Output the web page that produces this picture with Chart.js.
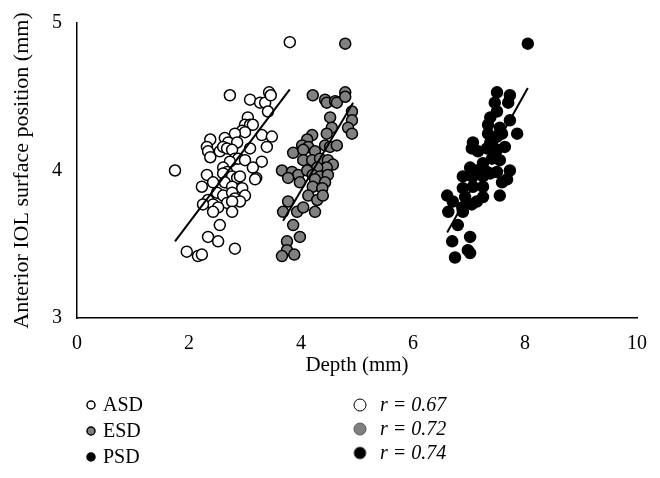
<!DOCTYPE html>
<html>
<head>
<meta charset="utf-8">
<title>Depth vs anterior IOL surface position</title>
<script src="https://cdn.jsdelivr.net/npm/chart.js@4.4.1/dist/chart.umd.min.js"></script>
<style>
  html, body { margin: 0; padding: 0; background: #fff; }
  .chart-wrapper { position: relative; width: 660px; height: 478px; }
</style>
</head>
<body>
<div class="chart-wrapper">
  <canvas id="myChart" width="660" height="478"></canvas>
</div>
<script>
// ASD points
const asdX = [3.80, 2.73, 3.09, 3.27, 3.36, 3.43, 3.46, 3.41, 3.05, 3.00, 3.09, 3.14, 2.95, 3.00, 3.30, 3.48, 2.82,
  2.64, 2.70, 2.86, 2.38, 2.32, 2.34, 2.38, 2.55, 2.61, 2.68, 2.77, 3.09, 3.39, 2.82, 2.88, 3.00, 2.73, 3.30,
  1.75, 2.32, 2.61, 2.68, 3.14, 3.20, 2.61, 2.77, 2.86, 2.91, 3.18, 2.23, 2.43, 2.64, 2.77, 2.95, 3.00,
  2.50, 2.61, 2.77, 2.82, 2.91, 2.34, 2.43, 2.25, 2.68, 2.77, 2.52, 2.43, 2.77, 2.55, 2.34, 2.52, 2.82,
  1.96, 2.16, 2.23];
const asdY = [4.87, 4.51, 4.48, 4.46, 4.46, 4.53, 4.51, 4.40, 4.36, 4.31, 4.31, 4.31, 4.27, 4.26, 4.24, 4.23, 4.25,
  4.22, 4.19, 4.19, 4.21, 4.16, 4.13, 4.09, 4.13, 4.16, 4.15, 4.14, 4.15, 4.16, 4.08, 4.08, 4.07, 4.06, 4.06,
  4.00, 3.97, 4.02, 3.99, 4.02, 3.95, 3.98, 3.96, 3.95, 3.96, 3.94, 3.89, 3.92, 3.92, 3.89, 3.88, 3.83,
  3.85, 3.83, 3.85, 3.81, 3.79, 3.80, 3.77, 3.77, 3.78, 3.79, 3.75, 3.72, 3.72, 3.63, 3.55, 3.52, 3.47,
  3.45, 3.42, 3.43];

// ESD points
const esdX = [4.79, 4.21, 4.43, 4.46, 4.61, 4.64, 4.79, 4.79, 4.91, 4.91, 4.84, 4.91, 4.52, 4.55, 4.46,
  4.20, 4.11, 4.02, 4.13, 3.86, 4.04, 4.25, 4.43, 4.52, 4.64, 4.04, 4.20, 4.34, 4.48, 4.57, 4.46, 4.29,
  3.66, 3.84, 3.95, 4.11, 4.21, 4.34, 4.48, 3.77, 3.98, 4.25, 4.43, 4.21, 4.38, 4.13, 4.29, 4.39,
  3.77, 3.68, 3.93, 4.04, 4.25, 3.86, 3.98, 3.75, 3.75, 3.66, 3.88];
const esdY = [4.86, 4.51, 4.48, 4.46, 4.47, 4.46, 4.53, 4.50, 4.40, 4.34, 4.29, 4.25, 4.36, 4.29, 4.25,
  4.24, 4.21, 4.17, 4.16, 4.12, 4.14, 4.13, 4.17, 4.16, 4.17, 4.07, 4.07, 4.08, 4.07, 4.04, 4.02, 4.02,
  4.00, 3.99, 3.97, 4.00, 3.97, 3.96, 3.97, 3.95, 3.92, 3.94, 3.92, 3.89, 3.88, 3.83, 3.80, 3.83,
  3.79, 3.72, 3.72, 3.75, 3.72, 3.63, 3.55, 3.52, 3.46, 3.42, 3.43];

// PSD points
const psdX = [8.05, 7.50, 7.73, 7.70, 7.46, 7.50, 7.38, 7.34, 7.55, 7.73, 7.86, 7.34, 7.50, 7.59, 7.38, 7.07,
  7.05, 7.16, 7.32, 7.50, 7.64, 7.41, 7.55, 7.25, 7.02, 7.14, 7.32, 7.73, 6.89, 7.05, 7.50, 7.25, 7.38,
  7.59, 7.68, 7.55, 6.89, 7.07, 7.25, 6.93, 7.14, 7.25, 7.05, 6.61, 6.71, 6.88, 6.89, 6.63, 6.80,
  6.70, 7.02, 6.98, 7.02, 6.75];
const psdY = [4.86, 4.53, 4.51, 4.46, 4.46, 4.40, 4.36, 4.31, 4.29, 4.34, 4.25, 4.25, 4.23, 4.25, 4.19, 4.19,
  4.15, 4.13, 4.15, 4.14, 4.16, 4.08, 4.07, 4.05, 4.02, 4.00, 3.99, 4.00, 3.96, 3.96, 3.99, 3.96, 3.98,
  3.92, 3.94, 3.83, 3.88, 3.89, 3.89, 3.82, 3.79, 3.82, 3.77, 3.83, 3.79, 3.75, 3.72, 3.72, 3.63,
  3.52, 3.55, 3.46, 3.44, 3.41];

// fitted lines, [start, end]
const asdFitX = [1.75, 3.80], asdFitY = [3.52, 4.55];
const esdFitX = [3.68, 4.93], esdFitY = [3.66, 4.46];
const psdFitX = [6.61, 8.05], psdFitY = [3.58, 4.56];

const groupNames = ['ASD', 'ESD', 'PSD'];
const rValues = ['0.67', '0.72', '0.74'];
const fills = ['#ffffff', '#808080', '#000000'];

function pts(xs, ys) {
  return xs.map((x, i) => ({ x: x, y: ys[i] }));
}

const serif = '"Liberation Serif", "DejaVu Serif", serif';

// legend under the plot, two columns
const legendPlugin = {
  id: 'bottomLegend',
  afterDraw(chart) {
    const c = chart.ctx;
    c.save();
    c.textBaseline = 'middle';
    c.fillStyle = '#000';
    const rowsL = [405, 431, 457];
    const rowsR = [405, 429, 453];
    for (let i = 0; i < 3; i++) {
      // left column
      c.beginPath();
      c.arc(91, rowsL[i], 4, 0, Math.PI * 2);
      c.fillStyle = fills[i];
      c.fill();
      c.lineWidth = 1.5;
      c.strokeStyle = '#000';
      c.stroke();
      c.fillStyle = '#000';
      c.font = '20px ' + serif;
      c.textAlign = 'left';
      c.fillText(groupNames[i], 103, rowsL[i] + 1);
      // right column
      c.beginPath();
      c.arc(360, rowsR[i], 6, 0, Math.PI * 2);
      c.fillStyle = fills[i];
      c.fill();
      c.lineWidth = 1;
      c.strokeStyle = i === 0 ? '#000' : '#555';
      c.stroke();
      c.fillStyle = '#000';
      c.font = 'italic 20px ' + serif;
      c.fillText('r = ' + rValues[i], 380, rowsR[i] + 1);
    }
    c.restore();
  }
};

const pointStyle = (fill) => ({
  type: 'scatter',
  pointRadius: 5.5,
  pointHoverRadius: 5.5,
  pointBackgroundColor: fill,
  pointBorderColor: '#000',
  pointBorderWidth: 1.5,
  order: 2
});

const lineStyle = {
  type: 'line',
  showLine: true,
  pointRadius: 0,
  borderColor: '#000',
  borderWidth: 2,
  fill: false,
  order: 1
};

const ctx = document.getElementById('myChart');
const myChart = new Chart(ctx, {
  type: 'scatter',
  data: {
    datasets: [
      Object.assign({ label: 'ASD fit', data: pts(asdFitX, asdFitY) }, lineStyle),
      Object.assign({ label: 'ESD fit', data: pts(esdFitX, esdFitY) }, lineStyle),
      Object.assign({ label: 'PSD fit', data: pts(psdFitX, psdFitY) }, lineStyle),
      Object.assign({ label: 'ASD', data: pts(asdX, asdY) }, pointStyle(fills[0])),
      Object.assign({ label: 'ESD', data: pts(esdX, esdY) }, pointStyle(fills[1])),
      Object.assign({ label: 'PSD', data: pts(psdX, psdY) }, pointStyle(fills[2]))
    ]
  },
  options: {
    responsive: false,
    animation: false,
    layout: { padding: { top: 23, right: 23, left: 0, bottom: 0 } },
    plugins: {
      legend: { display: false },
      tooltip: { enabled: false }
    },
    scales: {
      x: {
        type: 'linear',
        min: 0,
        max: 10,
        grid: { display: false },
        border: { display: true, color: '#000', width: 1.5 },
        ticks: { stepSize: 2, padding: 6, color: '#000', font: { family: serif, size: 20 } },
        title: { display: true, text: 'Depth (mm)', color: '#000', font: { family: serif, size: 21 }, padding: { top: 0, bottom: 100 } },
        afterFit(scale) { scale.height = 160; }
      },
      y: {
        type: 'linear',
        min: 3,
        max: 5,
        grid: { display: false },
        border: { display: true, color: '#000', width: 1.5 },
        ticks: { stepSize: 1, padding: 7, color: '#000', font: { family: serif, size: 20 } },
        title: { display: true, text: 'Anterior IOL surface position (mm)', color: '#000', font: { family: serif, size: 22 }, padding: { top: 9, bottom: 0 } },
        afterFit(scale) { scale.width = 77; }
      }
    }
  },
  plugins: [legendPlugin]
});
</script>
</body>
</html>
